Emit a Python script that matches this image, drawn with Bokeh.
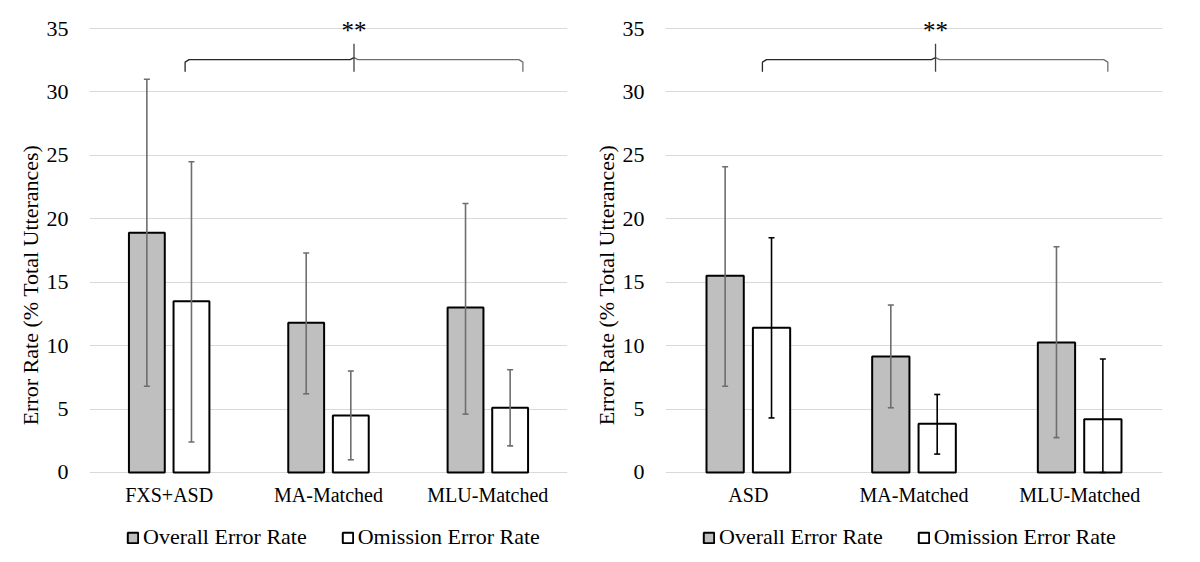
from bokeh.plotting import figure
from bokeh.models import (ColumnDataSource, Range1d, FactorRange, FixedTicker, Whisker,
                          TeeHead, Legend, LegendItem)
from bokeh.transform import dodge
from bokeh.layouts import row
from bokeh.embed import file_html
from bokeh.resources import INLINE
from bokeh.core.properties import value

# ---------------- data ----------------
left_groups = ["FXS+ASD", "MA-Matched", "MLU-Matched"]
left_overall = [18.9, 11.8, 13.0]
left_overall_lo = [6.8, 6.2, 4.6]
left_overall_hi = [31.0, 17.3, 21.2]
left_omission = [13.5, 4.5, 5.1]
left_omission_lo = [2.4, 1.0, 2.1]
left_omission_hi = [24.5, 8.0, 8.1]

right_groups = ["ASD", "MA-Matched", "MLU-Matched"]
right_overall = [15.5, 9.15, 10.25]
right_overall_lo = [6.8, 5.1, 2.75]
right_overall_hi = [24.1, 13.2, 17.8]
right_omission = [11.4, 3.85, 4.2]
right_omission_lo = [4.3, 1.45, 0.0]
right_omission_hi = [18.5, 6.15, 8.95]

series_names = ["Overall Error Rate", "Omission Error Rate"]
y_ticks = [0, 5, 10, 15, 20, 25, 30, 35]
y_title = "Error Rate (% Total Utterances)"
significance = "**"

# significance brace: x positions (left end, centre, right end) in category units,
# and y levels (end, bar, peak)
left_brace_x = [0.6, 1.66, 2.72]
right_brace_x = [0.585, 1.63, 2.67]
brace_y = [31.6, 32.55, 33.8]
star_y = 34.85

FONT = "Liberation Serif"
GRAY_FILL = "#bfbfbf"
GRID = "#d9d9d9"
FIG_H = 560
Y_RANGE = (-6.94, 36.5)
CAT_LABEL_Y = -1.8


def panel(groups, ov, ov_lo, ov_hi, om, om_lo, om_hi, brace_x, om_err_color,
          width, border_left, border_right):
    src = ColumnDataSource(dict(cat=groups, ov=ov, ov_lo=ov_lo, ov_hi=ov_hi,
                                om=om, om_lo=om_lo, om_hi=om_hi))
    p = figure(x_range=FactorRange(*groups, range_padding=0),
               y_range=Range1d(*Y_RANGE), x_axis_location=None,
               width=width, height=FIG_H, output_backend="svg",
               toolbar_location=None, min_border_left=border_left,
               min_border_right=border_right, min_border_top=9,
               min_border_bottom=0)
    p.outline_line_color = None
    for g in p.grid:
        if g.dimension == 0:
            g.visible = False
        else:
            g.grid_line_color = GRID
            g.grid_line_width = 1
    p.yaxis.ticker = FixedTicker(ticks=y_ticks)
    ax = p.yaxis[0]
    ax.axis_line_color = None
    ax.major_tick_line_color = None
    ax.minor_tick_line_color = None
    ax.major_label_text_font = FONT
    ax.major_label_text_color = "#000000"
    ax.major_label_text_font_size = "22px"
    ax.major_label_standoff = 15
    ax.axis_label = y_title
    ax.axis_label_text_font = FONT
    ax.axis_label_text_font_size = "22px"
    ax.axis_label_text_font_style = "normal"
    ax.axis_label_text_color = "#000000"
    ax.axis_label_standoff = 1

    off = 0.14
    bw = 0.225
    r1 = p.vbar(x=dodge("cat", -off, range=p.x_range), top="ov", width=bw, source=src,
                fill_color=GRAY_FILL, line_color="black", line_width=2)
    r2 = p.vbar(x=dodge("cat", off, range=p.x_range), top="om", width=bw, source=src,
                fill_color="white", line_color="black", line_width=2)

    w1 = Whisker(base=dodge("cat", -off, range=p.x_range), upper="ov_hi", lower="ov_lo",
                 source=src, line_color="#6e6e6e", line_width=1.6, level="annotation",
                 upper_head=TeeHead(size=6, line_color="#6e6e6e", line_width=1.6),
                 lower_head=TeeHead(size=6, line_color="#6e6e6e", line_width=1.6))
    w2 = Whisker(base=dodge("cat", off, range=p.x_range), upper="om_hi", lower="om_lo",
                 source=src, line_color=om_err_color, line_width=1.6, level="annotation",
                 upper_head=TeeHead(size=6, line_color=om_err_color, line_width=1.6),
                 lower_head=TeeHead(size=6, line_color=om_err_color, line_width=1.6))
    p.add_layout(w1)
    p.add_layout(w2)

    # category labels (axis row)
    p.text(x="cat", y=CAT_LABEL_Y, text="cat", source=src, text_align="center",
           text_baseline="middle", text_font=value(FONT), text_font_size="20px",
           text_color="black")

    # significance brace
    xl, xc, xr = brace_x
    ye, yb, yp = brace_y
    d = 0.025
    p.line(x=[xl, xl, xl + d, xc - d, xc],
           y=[ye, yb - 0.2, yb, yb, yb + 0.15],
           line_color="#262626", line_width=1.3)
    p.line(x=[xc, xc + d, xr - d, xr, xr],
           y=[yb + 0.15, yb, yb, yb - 0.2, ye],
           line_color="#707070", line_width=1.3)
    p.line(x=[xc, xc], y=[ye, yp], line_color="#404040", line_width=1.3)
    p.text(x=[xc], y=[star_y], text=[significance], text_align="center",
           text_baseline="alphabetic", text_font=value(FONT), text_font_size="25px",
           text_color="black")

    legend = Legend(items=[LegendItem(label=series_names[0], renderers=[r1]),
                           LegendItem(label=series_names[1], renderers=[r2])],
                    orientation="horizontal", location=(37, 10),
                    border_line_color=None, background_fill_alpha=0,
                    glyph_width=13, glyph_height=13, label_standoff=4,
                    spacing=34, padding=0, margin=0,
                    label_text_font=FONT, label_text_font_size="22px",
                    label_text_color="#000000")
    p.add_layout(legend, "center")
    return p


p1 = panel(left_groups, left_overall, left_overall_lo, left_overall_hi,
           left_omission, left_omission_lo, left_omission_hi, left_brace_x,
           "#6e6e6e", 590, 89, 23)
p2 = panel(right_groups, right_overall, right_overall_lo, right_overall_hi,
           right_omission, right_omission_lo, right_omission_hi, right_brace_x,
           "#000000", 594, 75, 22)

layout = row(p1, p2)
open("out.html", "w").write(file_html(layout, INLINE))
